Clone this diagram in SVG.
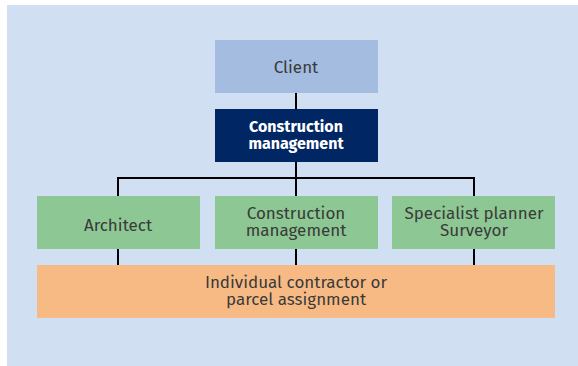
<svg xmlns="http://www.w3.org/2000/svg" width="578" height="366" viewBox="0 0 578 366">
<style>
.t{font-family:"Fira Sans","Open Sans","Liberation Sans",sans-serif;font-size:17px;fill:#3a3a3a;text-anchor:middle}
.b{font-weight:bold;fill:#ffffff;font-size:16px}
.c{stroke:#000;stroke-width:2;fill:none}
</style>
<rect x="7" y="5" width="571" height="361" fill="#d0e0f2"/>
<g id="connectors">
<path class="c" d="M296 93V109M296 162V178M118 178H474M118 177V196M474 177V196M296 178V196M118 249V265M296 249V265M474 249V265"/>
</g>
<g id="client"><rect x="215" y="40" width="163" height="53" fill="#a3bcdf"/><text class="t" x="296" y="73">Client</text></g>
<g id="cm-top"><rect x="215" y="109" width="163" height="53" fill="#002664"/><text class="t b" x="296" y="132">Construction</text><text class="t b" x="296" y="149">management</text></g>
<g id="architect"><rect x="37" y="196" width="163" height="53" fill="#8dc793"/><text class="t" x="118" y="231">Architect</text></g>
<g id="cm"><rect x="215" y="196" width="163" height="53" fill="#8dc793"/><text class="t" x="296" y="219">Construction</text><text class="t" x="296" y="236">management</text></g>
<g id="specialist"><rect x="392" y="196" width="163" height="53" fill="#8dc793"/><text class="t" x="474" y="219">Specialist planner</text><text class="t" x="474" y="236">Surveyor</text></g>
<g id="contractor"><rect x="37" y="265" width="518" height="53" fill="#f8ba84"/><text class="t" x="296" y="288">Individual contractor or</text><text class="t" x="296" y="305">parcel assignment</text></g>
</svg>
